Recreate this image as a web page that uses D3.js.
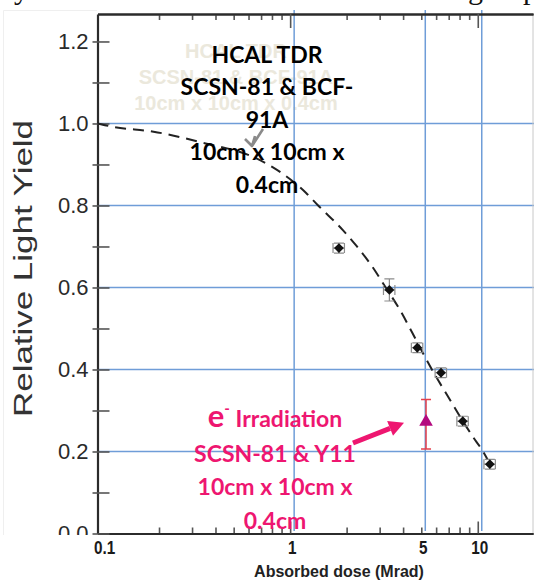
<!DOCTYPE html>
<html>
<head>
<meta charset="utf-8">
<script src="https://cdn.jsdelivr.net/npm/d3@7"></script>
<style>
  body { margin: 0; background: #fff; }
  svg { display: block; }
</style>
</head>
<body>
<svg id="chart" width="534" height="581"></svg>
<script>
// HCAL TDR measurements (dose in Mrad, relative light yield)
const doses = [1.82, 3.38, 4.76, 6.37, 8.32, 11.6];
const yields = [0.696, 0.594, 0.453, 0.392, 0.274, 0.169];
const yieldErr = [0.012, 0.027, 0.012, 0.012, 0.012, 0.012];
const doseErrFrac = 0.07;

// dashed fit line
const curveDose = [0.094, 0.113, 0.187, 0.35, 0.63, 0.81, 1.22, 1.41, 1.91, 2.27, 2.7, 3.2, 3.85, 4.47, 5.17, 6.0, 7.03, 8.25, 9.68, 10.54, 11.3];
const curveYield = [1.0, 0.992, 0.98, 0.952, 0.919, 0.893, 0.83, 0.8, 0.74, 0.7, 0.655, 0.603, 0.545, 0.49, 0.435, 0.382, 0.33, 0.277, 0.228, 0.204, 0.18];

// e- irradiation point
const eDose = [5.3];
const eYield = [0.27];
const eLow = [0.206];
const eHigh = [0.327];

// axes
const yTickValues = [0, 0.1, 0.2, 0.3, 0.4, 0.5, 0.6, 0.7, 0.8, 0.9, 1.0, 1.1, 1.2];
const xMinorTicks = [0.2, 0.3, 0.4, 0.5, 0.6, 0.7, 0.8, 0.9, 2, 3, 4, 5, 6, 7, 8, 9];
const xMajorTicks = [1, 10];
const xLabelValues = [0.1, 1, 5, 10];
const xGridValues = [1, 5, 10];
const yGridValues = [0.2, 0.4, 0.6, 0.8, 1.0];

const noteLines = ["HCAL TDR", "SCSN-81 & BCF-", "91A", "10cm x 10cm x", "0.4cm"];
const ghostLines = ["HCAL TDR", "SCSN-81 & BCF-91A", "10cm x 10cm x 0.4cm"];
const pinkLines = ["SCSN-81 & Y11", "10cm x 10cm x", "0.4cm"];

const svg = d3.select("#chart");

// plot box (pixels)
const plotLeft = 97.5, plotRight = 533, plotTop = 14, plotBottom = 533.5;

const x = d3.scaleLog().domain([0.094, 19.7]).range([plotLeft, plotRight]);
const y = d3.scaleLinear().domain([0, 1.267]).range([plotBottom, plotTop]);
const gridShift = 4; // the blue grid sits a few px right of the ticks

const blue = "#6f9dd8";
const pink = "#ee1670";

// faint edge of the pasted chart image
svg.append("path")
    .attr("d", "M3.5,535 V10.5 H97")
    .attr("fill", "none")
    .attr("stroke", "#efefef");

// clipped line of slide text at the very top
svg.append("g")
    .attr("font-family", "'Liberation Serif', 'DejaVu Serif', serif")
    .attr("font-size", 30)
    .attr("fill", "#111")
    .selectAll("text")
    .data([{t: "y", x: 14}, {t: "g", x: 468}, {t: "p", x: 523}])
    .enter().append("text")
    .attr("x", d => d.x)
    .attr("y", -1.5)
    .text(d => d.t);

// faint watermark text from the original chart
svg.append("g")
    .attr("font-family", "'Liberation Sans', Arial, sans-serif")
    .attr("font-weight", "bold")
    .attr("font-size", 20)
    .attr("fill", "#ebe8dc")
    .attr("text-anchor", "middle")
    .selectAll("text")
    .data(ghostLines)
    .enter().append("text")
    .attr("x", 236)
    .attr("y", (d, i) => 58 + i * 26)
    .text(d => d);

// blue grid
svg.append("g").selectAll("line")
    .data(yGridValues)
    .enter().append("line")
    .attr("x1", plotLeft).attr("x2", 534)
    .attr("y1", d => y(d)).attr("y2", d => y(d))
    .attr("stroke", blue).attr("stroke-width", 1.5);

svg.append("g").selectAll("line")
    .data(xGridValues)
    .enter().append("line")
    .attr("x1", d => x(d) + gridShift).attr("x2", d => x(d) + gridShift)
    .attr("y1", 10).attr("y2", 531)
    .attr("stroke", blue).attr("stroke-width", 1.5);

// right edge of the original frame
svg.append("line")
    .attr("x1", plotRight).attr("x2", plotRight)
    .attr("y1", plotTop).attr("y2", plotBottom)
    .attr("stroke", "#c8c8c8");

// axes: ticks point inward
function styleAxis(g) {
    g.selectAll(".domain").attr("stroke", "#2b2b2b").attr("stroke-width", 2.2);
    g.selectAll(".tick line").attr("stroke", "#555").attr("stroke-width", 1.6);
}

svg.append("g")
    .attr("transform", `translate(0,${plotBottom})`)
    .call(d3.axisTop(x).tickValues(xMinorTicks).tickSize(6).tickSizeOuter(0).tickFormat(""))
    .call(styleAxis);
svg.append("g")
    .attr("transform", `translate(0,${plotBottom})`)
    .call(d3.axisTop(x).tickValues(xMajorTicks).tickSize(12).tickSizeOuter(0).tickFormat(""))
    .call(styleAxis);
svg.append("g")
    .attr("transform", `translate(0,${plotTop})`)
    .call(d3.axisBottom(x).tickValues(xMinorTicks).tickSize(6).tickSizeOuter(0).tickFormat(""))
    .call(styleAxis);
svg.append("g")
    .attr("transform", `translate(0,${plotTop})`)
    .call(d3.axisBottom(x).tickValues(xMajorTicks).tickSize(14).tickSizeOuter(0).tickFormat(""))
    .call(styleAxis);

const yAxis = svg.append("g")
    .attr("transform", `translate(${plotLeft},0)`)
    .call(d3.axisLeft(y)
        .tickValues(yTickValues)
        .tickSize(-12)
        .tickSizeOuter(0)
        .tickPadding(9)
        .tickFormat(d => Math.round(d * 10) % 2 === 0 ? d3.format(".1f")(d) : ""))
    .call(styleAxis);
yAxis.selectAll(".tick line").attr("x1", -5);
yAxis.selectAll(".tick text")
    .attr("font-family", "'Liberation Sans', Arial, sans-serif")
    .attr("font-size", 22)
    .attr("fill", "#2a2a2a");

// y title
svg.append("text")
    .attr("transform", "translate(31.5,268.5) rotate(-90)")
    .attr("text-anchor", "middle")
    .attr("font-family", "'Liberation Sans', Arial, sans-serif")
    .attr("font-size", 26)
    .attr("fill", "#333")
    .attr("textLength", 297)
    .attr("lengthAdjust", "spacingAndGlyphs")
    .text("Relative Light Yield");

// dashed fit line
const curvePts = curveDose.map((d, i) => [d, curveYield[i]]);
svg.append("path")
    .datum(curvePts)
    .attr("d", d3.line().x(d => x(d[0])).y(d => y(d[1])).curve(d3.curveMonotoneX))
    .attr("fill", "none")
    .attr("stroke", "#222")
    .attr("stroke-width", 2)
    .attr("stroke-dasharray", "11,7");

// data points with gray error bars
const pts = doses.map((d, i) => ({dose: d, val: yields[i], err: yieldErr[i]}));
const errG = svg.append("g").attr("stroke", "#8c8c8c").attr("stroke-width", 1.2).attr("fill", "none");
pts.forEach(p => {
    const cx = x(p.dose), cy = y(p.val);
    const x0 = x(p.dose * (1 - doseErrFrac)), x1 = x(p.dose * (1 + doseErrFrac));
    const y0 = y(p.val - p.err), y1 = y(p.val + p.err);
    errG.append("path").attr("d",
        `M${x0},${cy}H${x1}M${x0},${cy - 5}V${cy + 5}M${x1},${cy - 5}V${cy + 5}` +
        `M${cx},${y0}V${y1}M${cx - 5},${y0}H${cx + 5}M${cx - 5},${y1}H${cx + 5}`);
});
svg.append("g").selectAll("path")
    .data(pts)
    .enter().append("path")
    .attr("d", d3.symbol(d3.symbolSquare, 48))
    .attr("transform", d => `translate(${x(d.dose)},${y(d.val)}) rotate(45)`)
    .attr("fill", "#111");

// e- irradiation point
const ePts = eDose.map((d, i) => ({dose: d, val: eYield[i], lo: eLow[i], hi: eHigh[i]}));
ePts.forEach(p => {
    const cx = x(p.dose);
    svg.append("path")
        .attr("d", `M${cx},${y(p.lo)}V${y(p.hi)}M${cx - 5},${y(p.lo)}H${cx + 5}M${cx - 5},${y(p.hi)}H${cx + 5}`)
        .attr("stroke", "#e5404c").attr("stroke-width", 1.5).attr("fill", "none");
    svg.append("path")
        .attr("d", d3.symbol(d3.symbolTriangle, 80))
        .attr("transform", `translate(${cx},${y(p.val) - 1})`)
        .attr("fill", "#b30a7f");
});

// black annotation + its gray arrow
svg.append("g")
    .attr("font-family", "Lato, 'Open Sans', sans-serif")
    .attr("font-weight", "bold")
    .attr("font-size", 23)
    .attr("fill", "#000")
    .attr("text-anchor", "middle")
    .selectAll("text")
    .data(noteLines)
    .enter().append("text")
    .attr("x", 267)
    .attr("y", (d, i) => 63 + i * 32.4)
    .text(d => d);

svg.append("path")
    .attr("d", "M263,129 L252,146 M245,139 L252,146 L255,136")
    .attr("fill", "none")
    .attr("stroke", "#8a8a8a")
    .attr("stroke-width", 2.6)
    .attr("stroke-linejoin", "round");

// pink annotation
const pinkG = svg.append("g")
    .attr("font-family", "Lato, 'Open Sans', sans-serif")
    .attr("font-weight", "bold")
    .attr("fill", pink)
    .attr("text-anchor", "middle");
const first = pinkG.append("text").attr("x", 275).attr("y", 427).attr("font-size", 23);
first.append("tspan").attr("font-size", 31).text("e");
first.append("tspan").attr("font-size", 15).attr("dy", -13).text("-");
first.append("tspan").attr("dy", 13).text(" Irradiation");
pinkG.selectAll("text.line")
    .data(pinkLines)
    .enter().append("text")
    .attr("class", "line")
    .attr("font-size", 23)
    .attr("x", 275)
    .attr("y", (d, i) => 461.5 + i * 33.5)
    .text(d => d);

// pink arrow pointing at the e- point
const tipX = x(eDose[0]) - 22, tipY = y(eYield[0]);
const ang = Math.atan2(tipY - 443, tipX - 353);
const hx = tipX - 15 * Math.cos(ang), hy = tipY - 15 * Math.sin(ang);
const nx = -Math.sin(ang) * 8, ny = Math.cos(ang) * 8;
svg.append("line")
    .attr("x1", 353).attr("y1", 443).attr("x2", hx).attr("y2", hy)
    .attr("stroke", pink).attr("stroke-width", 5);
svg.append("path")
    .attr("d", `M${tipX},${tipY}L${hx + nx},${hy + ny}L${hx - nx},${hy - ny}Z`)
    .attr("fill", pink);

// the bottom strip comes from another image: it hides the lower half of "0.0"
svg.append("rect")
    .attr("x", 0).attr("y", 535)
    .attr("width", 534).attr("height", 46)
    .attr("fill", "#fff");

svg.append("g")
    .attr("font-family", "'Liberation Sans', Arial, sans-serif")
    .attr("font-weight", "bold")
    .attr("font-size", 18)
    .attr("fill", "#1a1a1a")
    .attr("text-anchor", "middle")
    .selectAll("text")
    .data(xLabelValues)
    .enter().append("text")
    .attr("transform", d => `translate(${x(d) + 2},554) scale(0.85,1)`)
    .text(d => d);

svg.append("text")
    .attr("x", 339)
    .attr("y", 577)
    .attr("text-anchor", "middle")
    .attr("font-family", "'Liberation Sans', Arial, sans-serif")
    .attr("font-weight", "bold")
    .attr("font-size", 16)
    .attr("fill", "#222")
    .text("Absorbed dose (Mrad)");
</script>
</body>
</html>
